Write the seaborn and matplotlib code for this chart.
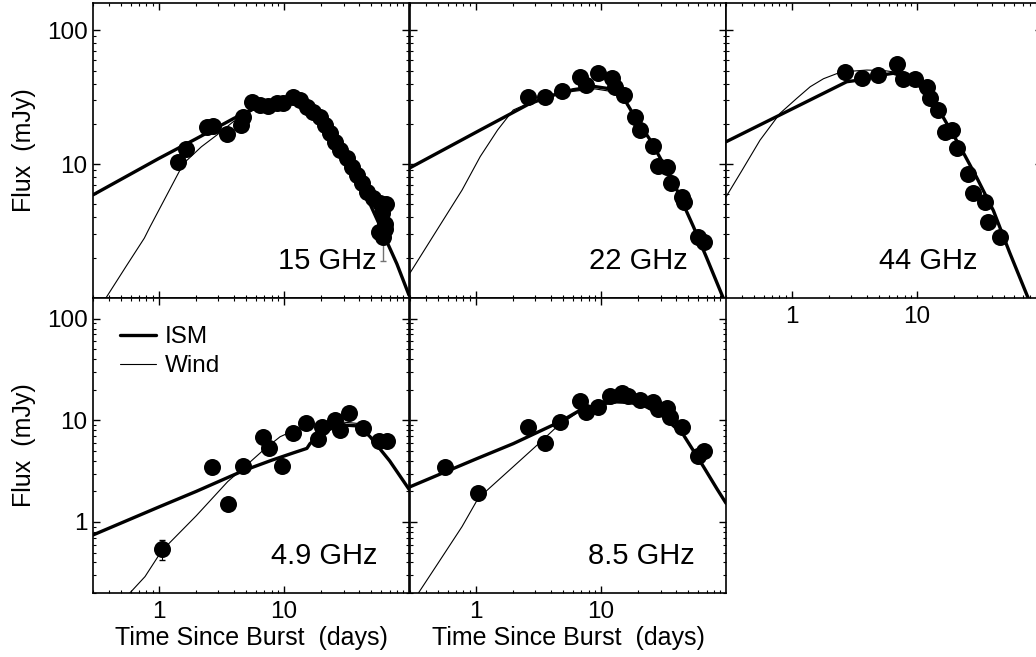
import matplotlib
matplotlib.use("Agg")
import matplotlib.pyplot as plt
import seaborn as sns
from matplotlib.lines import Line2D
from matplotlib.ticker import FixedLocator, LogLocator, FuncFormatter, NullFormatter

# ---- 15 GHz ----
t_15 = [1.42, 1.65, 2.43, 2.71, 3.55, 4.54, 4.76, 5.55, 6.47, 7.54, 8.8, 9.93, 11.9, 13.5,
        15.3, 17.2, 19.5, 21.4, 23.4, 25.7, 28.2, 31.9, 34.9, 38.3, 42.0, 46.0, 52.0, 58.8,
        60.4, 65.5, 64.4, 64.4, 57.5, 62.5]
f_15 = [10.4, 13.0, 19.0, 19.2, 16.7, 19.6, 22.6, 29.3, 27.7, 27.2, 28.5, 28.7, 31.9, 30.1,
        26.9, 24.7, 22.6, 19.6, 17.0, 14.7, 12.8, 11.1, 9.6, 8.3, 7.2, 6.2, 5.6, 5.1,
        4.3, 5.0, 3.6, 3.3, 3.1, 2.85]
ism_t_15 = [0.3, 1, 2, 4, 6, 9, 12, 15, 20, 25, 30, 40, 50, 60, 67, 80, 100]
ism_f_15 = [5.9, 11.0, 15.5, 22, 26.5, 29, 29.5, 27.5, 21.5, 16.5, 12.5, 7.6, 4.8, 3.3, 2.6, 1.8, 1.05]
wind_t_15 = [0.38, 0.55, 0.77, 0.855, 1.2, 1.58, 2.2, 2.92, 3.96, 6, 9, 12, 15, 20, 25, 30,
             40, 50, 60, 67, 80, 100]
wind_f_15 = [1.0, 1.72, 2.8, 3.4, 6.2, 10.1, 13.5, 16.5, 20.8, 26, 29, 29.5, 27.5, 21.5, 16.5,
             12.5, 7.6, 4.8, 3.3, 2.6, 1.8, 1.05]

# ---- 22 GHz ----
t_22 = [2.64, 3.59, 4.88, 6.84, 7.63, 9.57, 12.2, 13.0, 15.2, 18.8, 20.6, 26.0, 28.8, 33.7,
        36.5, 44.4, 46.3, 60.2, 66.8]
f_22 = [31.5, 31.5, 35.4, 45.0, 39.0, 48.2, 43.7, 37.9, 32.9, 22.6, 18.0, 13.7, 9.7, 9.6,
        7.2, 5.7, 5.2, 2.87, 2.64]
ism_t_22 = [0.3, 1.09, 2.64, 4, 6, 9, 12, 15, 19, 25, 30, 40, 55, 70, 95, 100]
ism_f_22 = [9.4, 18, 28, 32.5, 36, 38, 36.5, 32, 22, 15, 11, 6.6, 3.4, 2.0, 1.0, 0.9]
wind_t_22 = [0.3, 0.5, 0.78, 1.09, 1.5, 2.0, 2.64, 4, 6, 9, 12, 15, 19, 25, 30, 40, 55, 70, 95, 100]
wind_f_22 = [1.54, 3.3, 6.4, 11.4, 18, 25.4, 28.5, 32, 35, 36.5, 35, 31, 22, 15, 11, 6.6,
             3.4, 2.0, 1.0, 0.9]

# ---- 44 GHz ----
t_44 = [2.68, 3.64, 4.94, 6.92, 7.81, 9.70, 12.0, 12.8, 14.9, 16.8, 19.0, 20.9, 25.8, 28.3,
        35.2, 37.3, 46.3]
f_44 = [49.1, 43.7, 46.4, 56.0, 43.0, 43.0, 37.9, 31.0, 25.4, 17.5, 18.0, 13.1, 8.5, 6.05,
        5.25, 3.7, 2.87]
ism_t_44 = [0.3, 0.86, 2.76, 3.53, 5, 6.5, 8, 10, 13, 16, 22.2, 30, 40.9, 55, 77.5, 100]
ism_f_44 = [14.7, 24, 41.3, 42.6, 46, 47.8, 45, 40.2, 31, 23, 13.5, 8, 4.5, 2.2, 1.0, 0.55]
wind_t_44 = [0.3, 0.4, 0.56, 0.81, 1.1, 1.41, 1.8, 2.3, 3, 4, 5.5, 7, 8.5, 10, 13, 16, 22.2,
             30, 40.9, 55, 77.5, 100]
wind_f_44 = [5.7, 8.9, 15.1, 24, 31, 37.9, 43.5, 47.5, 49.5, 50.5, 50, 48.5, 45, 40.2, 31, 23,
             13.5, 8, 4.5, 2.2, 1.0, 0.55]

# ---- 4.9 GHz ----
t_49 = [1.06, 2.66, 3.57, 4.76, 6.87, 7.67, 9.64, 11.9, 15.1, 18.9, 20.1, 25.7, 28.2, 33.4,
        43.2, 58.1, 66.5]
f_49 = [0.54, 3.45, 1.50, 3.58, 6.8, 5.3, 3.56, 7.55, 9.5, 6.5, 8.65, 10.1, 8.0, 11.7,
        8.4, 6.2, 6.2]
ism_t_49 = [0.3, 1, 2, 4.76, 8, 12, 15.3, 16.2, 20, 25, 30, 40, 48.9, 70, 100]
ism_f_49 = [0.745, 1.4, 2.0, 3.2, 4.05, 4.8, 5.3, 5.9, 7.5, 8.5, 9.0, 8.8, 6.9, 4.0, 2.1]
wind_t_49 = [0.59, 0.78, 1.06, 2, 3.57, 4.76, 7, 9.35, 13, 20, 30, 40, 48.9, 70, 100]
wind_f_49 = [0.2, 0.29, 0.52, 1.15, 2.5, 3.4, 5.2, 6.9, 8.3, 9.3, 9.6, 9.3, 6.9, 4.0, 2.1]

# ---- 8.5 GHz ----
t_85 = [0.57, 1.05, 2.64, 3.59, 4.73, 6.84, 7.63, 9.57, 11.9, 14.7, 16.6, 20.6, 26.0, 28.8,
        33.7, 35.8, 44.4, 60.2, 66.1]
f_85 = [3.45, 1.94, 8.55, 6.0, 9.7, 15.6, 12.2, 13.4, 17.4, 18.7, 17.4, 15.8, 15.2, 12.8,
        13.3, 10.9, 8.6, 4.45, 5.0]
ism_t_85 = [0.3, 0.57, 1, 2, 4.73, 6.84, 10, 13.4, 17, 22, 30, 45.7, 66.1, 85, 100]
ism_f_85 = [2.22, 3.1, 4.15, 5.9, 9.7, 12.6, 14.5, 15.2, 15, 14, 11.5, 7.2, 3.5, 2.1, 1.53]
wind_t_85 = [0.35, 0.5, 0.78, 1.05, 2, 3, 4.46, 6.84, 10, 13.4, 17, 22, 30, 45.7, 66.1, 85, 100]
wind_f_85 = [0.2, 0.39, 0.9, 1.71, 3.5, 5.5, 8.65, 12.4, 14.3, 15.0, 15, 14, 11.5, 7.2, 3.5,
             2.1, 1.53]

band_names = ["15 GHz", "22 GHz", "44 GHz", "4.9 GHz", "8.5 GHz"]

sns.set_theme(style="ticks")
plt.rcParams['font.family'] = ['Liberation Sans', 'DejaVu Sans']
plt.rcParams.update({
    'text.color': 'black', 'axes.labelcolor': 'black',
    'axes.edgecolor': 'black', 'axes.linewidth': 1.2,
    'xtick.color': 'black', 'ytick.color': 'black',
    'xtick.labelcolor': 'black', 'ytick.labelcolor': 'black',
    'xtick.direction': 'in', 'ytick.direction': 'in',
    'xtick.top': True, 'ytick.right': True,
    'xtick.major.size': 5, 'ytick.major.size': 5,
    'xtick.minor.size': 2.5, 'ytick.minor.size': 2.5,
    'xtick.major.width': 1.0, 'ytick.major.width': 1.0,
    'xtick.minor.width': 0.8, 'ytick.minor.width': 0.8,
    'xtick.labelsize': 17.5, 'ytick.labelsize': 17.5,
    'axes.labelsize': 18,
})

fig = plt.figure(figsize=(10.36, 6.57), dpi=100)
lefts = [0.0898, 0.3958, 0.7008]
bottoms = [0.5464, 0.0974]
ymins = [1, 0.2]
yticks = [[10, 100], [1, 10, 100]]

panels = [
    (band_names[0], t_15, f_15, ism_t_15, ism_f_15, wind_t_15, wind_f_15, 0, 0, 0.899),
    (band_names[1], t_22, f_22, ism_t_22, ism_f_22, wind_t_22, wind_f_22, 1, 0, 0.880),
    (band_names[2], t_44, f_44, ism_t_44, ism_f_44, wind_t_44, wind_f_44, 2, 0, 0.797),
    (band_names[3], t_49, f_49, ism_t_49, ism_f_49, wind_t_49, wind_f_49, 0, 1, 0.900),
    (band_names[4], t_85, f_85, ism_t_85, ism_f_85, wind_t_85, wind_f_85, 1, 1, 0.900),
]

fmt = FuncFormatter(lambda v, p: f"{v:g}")
for name, t, f, ti, fi, tw, fw, col, row, lx in panels:
    ax = fig.add_axes([lefts[col], bottoms[row], 0.305, 0.449])
    ax.set_xscale('log')
    ax.set_yscale('log')
    sns.lineplot(x=ti, y=fi, ax=ax, color='black', linewidth=2.4, sort=False, estimator=None)
    sns.lineplot(x=tw, y=fw, ax=ax, color='black', linewidth=0.8, sort=False, estimator=None)
    sns.scatterplot(x=t, y=f, ax=ax, color='black', s=150, linewidth=0, zorder=3)

    if name == "15 GHz":
        ax.errorbar(62.5, 2.85, yerr=[[0.95], [0.0]], fmt='none', ecolor='0.45',
                    elinewidth=1, capsize=2, zorder=2)
    if name == "4.9 GHz":
        ax.errorbar(1.06, 0.54, yerr=0.12, fmt='none', ecolor='black',
                    elinewidth=0.8, capsize=2, zorder=4)
        handles = [Line2D([], [], color='black', lw=2.4, label='ISM'),
                   Line2D([], [], color='black', lw=0.8, label='Wind')]
        ax.legend(handles=handles, loc='upper left', bbox_to_anchor=(0.085, 0.905),
                  frameon=False, fontsize=17.5, handlelength=1.5, handletextpad=0.35,
                  labelspacing=0.3, borderpad=0, borderaxespad=0)

    ax.set_xlim(0.3, 100)
    ax.set_ylim(ymins[row], 160)
    ax.xaxis.set_major_locator(FixedLocator([1, 10]))
    ax.xaxis.set_minor_locator(LogLocator(base=10, subs=range(2, 10), numticks=20))
    ax.yaxis.set_major_locator(FixedLocator(yticks[row]))
    ax.yaxis.set_minor_locator(LogLocator(base=10, subs=range(2, 10), numticks=20))
    ax.xaxis.set_major_formatter(fmt)
    ax.yaxis.set_major_formatter(fmt)
    ax.xaxis.set_minor_formatter(NullFormatter())
    ax.yaxis.set_minor_formatter(NullFormatter())
    ax.tick_params(which='both', top=True, right=True)
    ax.tick_params(axis='x', pad=6)
    ax.tick_params(axis='y', pad=4)

    if row == 0 and col < 2:
        ax.tick_params(labelbottom=False)
    if col > 0:
        ax.tick_params(labelleft=False)
    if col == 0:
        ax.set_ylabel("Flux  (mJy)", labelpad=8)
    else:
        ax.set_ylabel("")
    if row == 1:
        ax.set_xlabel("Time Since Burst  (days)", labelpad=2)
    else:
        ax.set_xlabel("")

    ax.text(lx, 0.097, name, transform=ax.transAxes, ha='right', va='baseline',
            fontsize=21, color='black')

fig.savefig("out.png", dpi=100)
